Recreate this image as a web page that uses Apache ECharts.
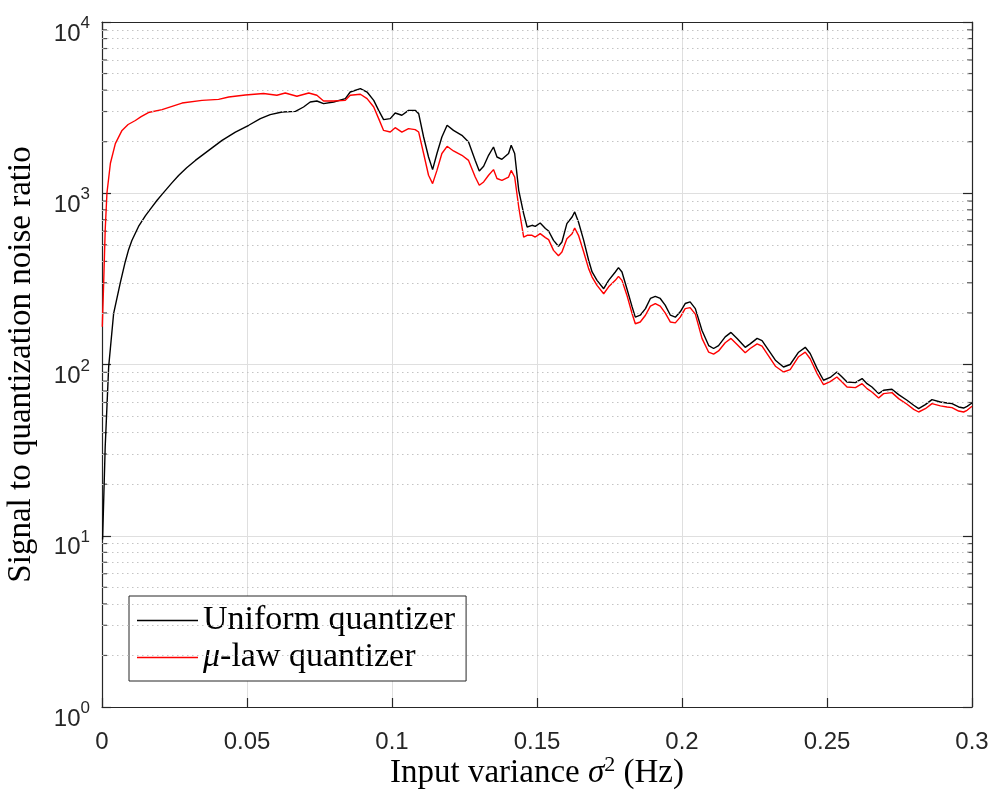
<!DOCTYPE html>
<html><head><meta charset="utf-8">
<script src="https://cdn.jsdelivr.net/npm/echarts@6/dist/echarts.min.js"></script>
<style>html,body{margin:0;padding:0;background:#fff}#c{width:993px;height:790px}</style>
</head><body><div id="c"></div>
<script>
const seriesNames = ['Uniform quantizer', 'μ-law quantizer'];
const seriesColors = ['#000000', '#ff0000'];

// [input variance, SNR]
const uniformPoints = [
[0.0002,9.5],[0.0011,33],[0.0023,97],[0.0040,198],[0.0063,300],[0.0080,397],[0.0092,470],[0.0103,530],[0.0126,640],
[0.0150,740],[0.0172,830],[0.0190,910],[0.0207,985],[0.0241,1150],[0.0264,1270],[0.0292,1410],[0.0322,1555],[0.0368,1779],[0.0414,2035],[0.0460,2277],
[0.0506,2495],[0.0546,2728],[0.0580,2879],[0.0621,2980],[0.0667,3008],[0.0695,3189],[0.0718,3411],[0.0741,3458],
[0.0764,3337],[0.0799,3411],[0.0839,3572],[0.0856,3900],[0.0891,4083],[0.0914,3900],[0.0937,3487],[0.0954,3048],
[0.0971,2692],[0.0994,2728],[0.1011,2943],[0.1034,2853],[0.1057,3048],[0.1080,3048],[0.1092,2917],[0.1109,2130],
[0.1126,1628],[0.1140,1374],[0.1155,1706],[0.1172,2130],[0.1190,2495],[0.1212,2328],[0.1241,2178],[0.1264,1991],
[0.1287,1555],[0.1301,1349],[0.1316,1436],[0.1333,1666],[0.1350,1862],[0.1362,1628],[0.1379,1578],[0.1402,1706],
[0.1411,1905],[0.1423,1706],[0.1437,1040],[0.1454,761],[0.1466,635],[0.1483,650],[0.1494,641],[0.1511,670],
[0.1529,622],[0.1540,602],[0.1557,531],[0.1574,490],[0.1586,519],[0.1603,665],[0.1621,727],[0.1630,778],
[0.1643,679],[0.1661,531],[0.1678,406],[0.1690,347],[0.1707,310],[0.1730,277],[0.1747,310],[0.1770,347],
[0.1781,368],[0.1793,347],[0.1810,277],[0.1828,217],[0.1839,189],[0.1856,194],[0.1874,212],[0.1891,243],
[0.1908,250],[0.1925,243],[0.1942,222],[0.1960,194],[0.1977,189],[0.1994,203],[0.2011,227],[0.2028,232],
[0.2046,212],[0.2069,158],[0.2092,129],[0.2109,124],[0.2126,129],[0.2149,145],[0.2169,154],[0.2190,142],
[0.2218,126],[0.2235,132],[0.2259,142],[0.2276,138],[0.2299,121],[0.2322,106],[0.2350,96.7],[0.2373,100],
[0.2402,118],[0.2425,126],[0.2442,116],[0.2466,94.6],[0.2488,80.9],[0.2511,84],[0.2534,90.4],[0.2552,84.5],
[0.2569,79],[0.2598,78.4],[0.2621,82.8],[0.2638,77.3],[0.2655,73.9],[0.2678,67.6],[0.2695,70.7],[0.2724,71.7],
[0.2747,66.7],[0.2776,61.8],[0.2799,57.8],[0.2816,55.2],[0.2839,58.3],[0.2862,62.4],[0.2891,60.4],[0.2914,59.6],
[0.2931,59.1],[0.2954,56.5],[0.2971,55.7],[0.2983,57],[0.3,59.6]
];

const muLawPoints = [
[0.0001,166],[0.0006,310],[0.0011,608],[0.0017,1000],[0.0029,1496],[0.0046,1950],[0.0069,2328],[0.0090,2520],[0.0115,2660],
[0.0135,2800],[0.0160,2960],[0.0207,3078],[0.0276,3363],[0.0345,3487],[0.0402,3531],[0.0437,3648],[0.0494,3748],[0.0557,3821],
[0.0603,3733],[0.0632,3849],[0.0672,3683],[0.0713,3849],[0.0741,3733],[0.0764,3458],[0.0799,3458],[0.0839,3487],
[0.0856,3733],[0.0891,3784],[0.0914,3572],[0.0937,3189],[0.0954,2728],[0.0971,2328],[0.0994,2277],[0.1011,2415],
[0.1034,2277],[0.1057,2384],[0.1080,2353],[0.1092,2277],[0.1109,1706],[0.1126,1274],[0.1140,1138],[0.1155,1360],
[0.1172,1706],[0.1190,1880],[0.1212,1766],[0.1241,1666],[0.1264,1555],[0.1287,1244],[0.1301,1113],[0.1316,1164],
[0.1333,1274],[0.1350,1374],[0.1362,1219],[0.1379,1188],[0.1402,1244],[0.1411,1360],[0.1423,1244],[0.1437,831],
[0.1454,555],[0.1466,568],[0.1483,568],[0.1494,555],[0.1511,581],[0.1529,551],[0.1540,536],[0.1557,464],
[0.1574,432],[0.1586,454],[0.1603,543],[0.1621,581],[0.1630,627],[0.1643,568],[0.1661,454],[0.1678,363],
[0.1690,324],[0.1707,290],[0.1730,259],[0.1747,284],[0.1770,310],[0.1781,327],[0.1793,310],[0.1810,254],
[0.1828,198],[0.1839,173],[0.1856,177],[0.1874,194],[0.1891,219],[0.1908,227],[0.1925,219],[0.1942,200],
[0.1960,177],[0.1977,175],[0.1994,189],[0.2011,212],[0.2028,215],[0.2046,197],[0.2069,142],[0.2092,118],
[0.2109,115],[0.2126,120],[0.2149,134],[0.2169,142],[0.2190,131],[0.2218,117],[0.2235,124],[0.2259,132],
[0.2276,128],[0.2299,112],[0.2322,97.7],[0.2350,90.4],[0.2373,93.4],[0.2402,111],[0.2425,118],[0.2442,108],
[0.2466,88.5],[0.2488,76.3],[0.2511,79.5],[0.2534,84.5],[0.2552,79],[0.2569,73.9],[0.2598,73.3],[0.2621,77.3],
[0.2638,72.3],[0.2655,69.1],[0.2678,63.7],[0.2695,67.6],[0.2724,68.5],[0.2747,63.2],[0.2776,58.6],[0.2799,54.7],
[0.2816,52.8],[0.2839,55.2],[0.2862,59.1],[0.2891,57.3],[0.2914,56.5],[0.2931,56],[0.2954,53.5],[0.2971,52.8],
[0.2983,54],[0.3,57]
];

const xRange = [0, 0.3];
const xInterval = 0.05;
const yRange = [1, 10000];
const yDecades = [1, 10, 100, 1000];
const yMinorMultipliers = [2, 3, 4, 5, 6, 7, 8, 9];
const xTitle = 'Input variance';
const yTitle = 'Signal to quantization noise ratio';

const AX = '#262626';
const SERIF = '"Liberation Serif","Times New Roman",serif';
const SANS = '"Liberation Sans",Arial,Helvetica,sans-serif';

const minorValues = [];
yDecades.forEach(d => yMinorMultipliers.forEach(m => minorValues.push(d * m)));

const chart = echarts.init(document.getElementById('c'), null, {renderer: 'canvas'});

const yLabelFmt = v => '{b|10}{s|' + Math.round(Math.log10(v)) + '}';
const yLabelRich = {
  b: {fontFamily: SANS, fontSize: 24, color: AX, padding: [24, 0, 0, 0]},
  s: {fontFamily: SANS, fontSize: 17, color: AX, padding: [3, 0, 0, 0]}
};

const tickSeries = (xv, offset) => ({
  type: 'scatter', silent: true, z: 1,
  data: minorValues.map(v => [xv, v]),
  symbol: 'rect', symbolSize: [5, 1.2], symbolOffset: [offset, 0],
  itemStyle: {color: AX}
});

chart.setOption({
  animation: false,
  backgroundColor: '#fff',
  grid: {left: 102, right: 21, top: 22, bottom: 83, containLabel: false, outerBoundsMode: 'none'},
  legend: {
    orient: 'vertical', left: 129, top: 596,
    data: seriesNames,
    icon: 'rect',
    itemWidth: 61, itemHeight: 1.4, itemGap: 2,
    padding: [7, 11, 6, 8],
    borderColor: AX, borderWidth: 1, backgroundColor: '#fff', borderRadius: 0,
    textStyle: {fontFamily: SERIF, fontSize: 34, color: '#000', lineHeight: 35,
      rich: {it: {fontFamily: SERIF, fontStyle: 'italic', fontSize: 34, color: '#000'}}},
    formatter: name => name.startsWith('μ') ? '{it|μ}' + name.slice(1) : name
  },
  xAxis: [{
    type: 'value', min: xRange[0], max: xRange[1], interval: xInterval,
    position: 'bottom',
    name: '{n|' + xTitle + ' }{it|σ}{sup|2}{n| (Hz)}',
    nameLocation: 'middle', nameGap: 47, nameMoveOverlap: false,
    nameTextStyle: {rich: {
      n: {fontFamily: SERIF, fontSize: 33, color: '#000'},
      it: {fontFamily: SERIF, fontSize: 33, fontStyle: 'italic', color: '#000'},
      sup: {fontFamily: SERIF, fontSize: 22, color: '#000', padding: [0, 0, 16, 0]}
    }},
    axisLine: {show: true, onZero: false, lineStyle: {color: AX, width: 1.2}},
    axisTick: {show: true, inside: true, length: 9, lineStyle: {color: AX, width: 1.2}},
    axisLabel: {fontFamily: SANS, fontSize: 24, color: AX, margin: 23,
      formatter: v => String(parseFloat(v.toFixed(4)))},
    splitLine: {show: true, lineStyle: {color: '#dfdfdf', width: 1}}
  }, {
    type: 'value', min: xRange[0], max: xRange[1], interval: xInterval,
    position: 'top',
    axisLine: {show: true, onZero: false, lineStyle: {color: AX, width: 1.2}},
    axisTick: {show: true, inside: true, length: 9, lineStyle: {color: AX, width: 1.2}},
    axisLabel: {show: false},
    splitLine: {show: false}
  }],
  yAxis: [{
    type: 'log', logBase: 10, min: yRange[0], max: yRange[1],
    position: 'left',
    name: yTitle, nameLocation: 'middle', nameGap: 64, nameRotate: 90, nameMoveOverlap: false,
    nameTextStyle: {fontFamily: SERIF, fontSize: 33, color: '#000'},
    axisLine: {show: true, onZero: false, lineStyle: {color: AX, width: 1.2}},
    axisTick: {show: true, inside: true, length: 9, lineStyle: {color: AX, width: 1.2}},
    minorTick: {show: false},
    axisLabel: {formatter: yLabelFmt, rich: yLabelRich, margin: 12},
    splitLine: {show: true, lineStyle: {color: '#dfdfdf', width: 1}},
    minorSplitLine: {show: false}
  }, {
    type: 'log', logBase: 10, min: yRange[0], max: yRange[1],
    position: 'right',
    axisLine: {show: true, onZero: false, lineStyle: {color: AX, width: 1.2}},
    axisTick: {show: true, inside: true, length: 9, lineStyle: {color: AX, width: 1.2}},
    axisLabel: {show: false},
    splitLine: {show: false}
  }],
  series: [
    Object.assign(tickSeries(xRange[0], 2.5), {
      markLine: {
        silent: true, symbol: 'none', label: {show: false}, animation: false,
        lineStyle: {color: '#c4c4c4', width: 1, type: [1.5, 3.5]},
        emphasis: {disabled: true},
        data: minorValues.map(v => ({yAxis: v}))
      }
    }),
    tickSeries(xRange[1], -2.5),
    {name: seriesNames[0], type: 'line', data: uniformPoints, symbol: 'none', z: 3,
     lineStyle: {color: seriesColors[0], width: 1.4}, itemStyle: {color: seriesColors[0]}},
    {name: seriesNames[1], type: 'line', data: muLawPoints, symbol: 'none', z: 4,
     lineStyle: {color: seriesColors[1], width: 1.4}, itemStyle: {color: seriesColors[1]}}
  ]
});
</script></body></html>
